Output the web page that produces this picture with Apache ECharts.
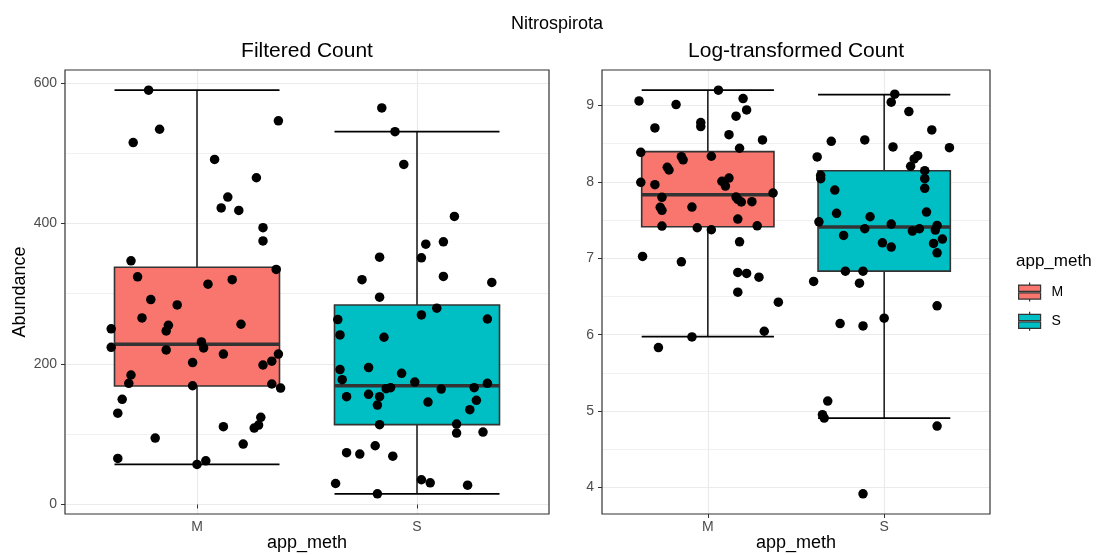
<!DOCTYPE html>
<html><head><meta charset="utf-8">
<script src="https://cdn.jsdelivr.net/npm/echarts@6/dist/echarts.min.js"></script>
<style>html,body{margin:0;padding:0;background:#fff}#c{width:1097px;height:555px}</style>
</head><body><div id="c"></div>
<script>
const categories = ['M', 'S'];
const filteredTicks = [0, 200, 400, 600];
const logTicks = [4, 5, 6, 7, 8, 9];

// jittered points: [horizontal jitter offset (category units), value]
const filteredM = [
  [-0.22,589.6],[-0.17,534],[-0.29,515],[0.37,546],[0.08,491],[0.27,465],[0.14,437.5],[0.11,422],
  [0.19,418.5],[0.30,394],[0.30,375],[-0.30,346.7],[0.36,334.5],[-0.27,324],[0.05,313.5],[0.16,320],
  [-0.21,291.7],[-0.09,284],[-0.25,265.5],[0.20,256.5],[-0.39,250],[-0.13,255],[-0.14,247],[-0.39,223.7],
  [0.02,231.3],[0.03,222.8],[-0.14,220],[0.12,214],[-0.02,202],[0.30,198.5],[0.34,204],[0.37,214],
  [-0.30,184.3],[-0.31,172.4],[-0.02,169],[0.34,171.5],[0.38,165.7],[-0.34,149.6],[-0.36,130],[0.29,124],
  [0.28,113],[0.26,108.8],[0.12,110.7],[-0.19,94.5],[0.21,86],[-0.36,65.6],[0.04,62.2],[0.00,57]
];
const filteredS = [
  [-0.16,564.3],[-0.10,530.6],[-0.06,484],[0.17,410],[0.04,370.5],[0.12,373.8],[-0.17,352],[0.02,351],
  [-0.25,320],[0.12,324.5],[0.34,316],[-0.17,295],[0.09,279.3],[0.02,269.8],[-0.36,263.2],[0.32,264],
  [-0.35,241.3],[-0.15,238],[-0.35,192],[-0.22,194.8],[-0.07,186.7],[-0.34,177.7],[-0.01,174.3],[-0.14,164.8],
  [-0.12,166.3],[0.11,164.3],[0.26,166.3],[0.32,172.4],[-0.32,153.5],[-0.22,156.8],[-0.17,153.5],[-0.18,141.5],
  [0.05,145.8],[0.27,148.2],[0.24,135],[-0.17,113.6],[0.18,114.4],[0.18,101.6],[0.30,103],[-0.19,83.6],
  [-0.32,73.7],[-0.26,71.7],[-0.11,68.8],[-0.37,29.9],[0.02,35.2],[0.06,30.9],[0.23,27.5],[-0.18,15.2]
];
const logM = [
  [0.06,9.201],[-0.39,9.061],[-0.18,9.013],[0.20,9.091],[0.22,8.943],[0.16,8.860],[-0.30,8.707],[-0.04,8.777],
  [-0.04,8.724],[0.12,8.619],[0.31,8.550],[0.18,8.441],[-0.38,8.388],[0.02,8.336],[-0.15,8.33],[-0.14,8.29],
  [-0.23,8.192],[-0.22,8.156],[-0.38,7.995],[-0.30,7.964],[0.08,8.008],[0.12,8.051],[0.10,7.946],[-0.26,7.798],
  [0.16,7.802],[0.17,7.772],[0.19,7.737],[0.25,7.741],[0.37,7.855],[-0.27,7.667],[-0.26,7.628],[-0.09,7.671],
  [0.17,7.514],[-0.26,7.422],[-0.06,7.400],[0.02,7.374],[0.28,7.426],[0.18,7.216],[-0.37,7.025],[-0.15,6.954],
  [0.17,6.815],[0.22,6.802],[0.29,6.753],[0.17,6.557],[0.40,6.426],[0.32,6.045],[-0.09,5.971],[-0.28,5.832]
];
const logS = [
  [0.06,9.149],[0.04,9.044],[0.14,8.921],[0.27,8.681],[-0.30,8.532],[-0.11,8.550],[0.05,8.458],[0.37,8.449],
  [-0.38,8.327],[0.19,8.344],[0.17,8.301],[0.15,8.205],[0.23,8.147],[-0.36,8.087],[-0.36,8.042],[0.23,8.042],
  [-0.28,7.894],[0.23,7.916],[-0.27,7.589],[-0.08,7.544],[0.24,7.605],[-0.37,7.478],[0.04,7.448],[-0.11,7.387],
  [0.16,7.357],[0.20,7.387],[0.30,7.431],[0.29,7.370],[-0.23,7.300],[-0.01,7.203],[0.04,7.147],[0.33,7.252],
  [0.28,7.195],[0.30,7.072],[-0.22,6.832],[-0.12,6.832],[-0.40,6.697],[-0.14,6.675],[0.30,6.378],[-0.25,6.146],
  [-0.12,6.115],[0.00,6.216],[-0.32,5.131],[-0.35,4.953],[-0.34,4.909],[0.30,4.804],[-0.12,3.917]
];

// box statistics: [lower whisker, Q1, median, Q3, upper whisker]
const filteredBoxM = [57, 168.6, 228, 337.7, 589.6];
const filteredBoxS = [15.2, 113.6, 169, 284, 530.6];
const logBoxM = [5.976, 7.413, 7.833, 8.396, 9.201];
const logBoxS = [4.909, 6.832, 7.409, 8.147, 9.144];

const groupColors = ['#F8766D', '#00BFC4'];
const FONT = 'Liberation Sans, Arial, sans-serif';
const BOX_HALF = 0.375;

const GRIDS = [
  {left: 65, top: 70, width: 484, height: 444},
  {left: 602, top: 70, width: 388, height: 444}
];

function yExtent(a, b) {
  const vals = a.concat(b).map(p => p[1]);
  const lo = Math.min.apply(null, vals), hi = Math.max.apply(null, vals);
  const pad = (hi - lo) * 0.05;
  return [lo - pad, hi + pad];
}

function renderBox(params, api) {
  const x = api.value(0);
  const lo = api.value(1), q1 = api.value(2), md = api.value(3), q3 = api.value(4), hi = api.value(5);
  const xl = api.coord([x - BOX_HALF, lo])[0];
  const xr = api.coord([x + BOX_HALF, lo])[0];
  const xc = api.coord([x, lo])[0];
  const yLo = api.coord([x, lo])[1], yQ1 = api.coord([x, q1])[1], yMd = api.coord([x, md])[1];
  const yQ3 = api.coord([x, q3])[1], yHi = api.coord([x, hi])[1];
  const color = api.visual('color');
  return {type: 'group', children: [
    {type: 'line', shape: {x1: xc, y1: yLo, x2: xc, y2: yHi}, style: {stroke: '#222', lineWidth: 1.6}},
    {type: 'line', shape: {x1: xl, y1: yLo, x2: xr, y2: yLo}, style: {stroke: '#000', lineWidth: 1.8}},
    {type: 'line', shape: {x1: xl, y1: yHi, x2: xr, y2: yHi}, style: {stroke: '#000', lineWidth: 1.8}},
    {type: 'rect', shape: {x: xl, y: yQ3, width: xr - xl, height: yQ1 - yQ3}, style: {fill: color, stroke: '#333', lineWidth: 1.6}},
    {type: 'line', shape: {x1: xl, y1: yMd, x2: xr, y2: yMd}, style: {stroke: '#333', lineWidth: 3.6}}
  ]};
}

function xAxisDef(gi) {
  return {
    type: 'value', gridIndex: gi, min: 0.4, max: 2.6, splitNumber: 2,
    name: 'app_meth', nameLocation: 'middle', nameGap: 20, nameMoveOverlap: false,
    nameTextStyle: {fontSize: 18, color: '#000', fontFamily: FONT},
    axisLine: {show: false},
    axisTick: {show: true, length: 4, lineStyle: {color: '#333', width: 1}, customValues: [1, 2]},
    axisLabel: {customValues: [1, 2], formatter: v => categories[Math.round(v) - 1], fontSize: 14,
      color: '#4D4D4D', margin: 6, fontFamily: FONT},
    splitLine: {show: true, lineStyle: {color: '#EBEBEB', width: 1.2}},
    minorTick: {show: false}, minorSplitLine: {show: false}
  };
}

function yAxisDef(gi, ext, ticks, splitNumber, name) {
  const ax = {
    type: 'value', gridIndex: gi, min: ext[0], max: ext[1], splitNumber: splitNumber,
    axisLine: {show: false},
    axisTick: {show: true, length: 4, lineStyle: {color: '#333', width: 1}, customValues: ticks},
    axisLabel: {customValues: ticks, fontSize: 14, color: '#4D4D4D', margin: 8, fontFamily: FONT},
    splitLine: {show: true, lineStyle: {color: '#EBEBEB', width: 1.2}},
    minorTick: {show: false, splitNumber: 2},
    minorSplitLine: {show: true, lineStyle: {color: '#EBEBEB', width: 0.7}}
  };
  if (name) {
    ax.name = name; ax.nameLocation = 'middle'; ax.nameGap = 36; ax.nameRotate = 90;
    ax.nameMoveOverlap = false;
    ax.nameTextStyle = {fontSize: 18, color: '#000', fontFamily: FONT};
  }
  return ax;
}

function panelSeries(gi, boxes, pointSets) {
  const out = [];
  boxes.forEach((b, i) => {
    out.push({
      type: 'custom', name: categories[i], xAxisIndex: gi, yAxisIndex: gi,
      renderItem: renderBox, itemStyle: {color: groupColors[i]},
      data: [[i + 1].concat(b)], encode: {x: 0, y: [1, 2, 3, 4, 5]}, z: 2, silent: true
    });
  });
  pointSets.forEach((pts, i) => {
    out.push({
      type: 'scatter', name: 'points-' + gi + '-' + categories[i], xAxisIndex: gi, yAxisIndex: gi,
      symbolSize: 9.5, itemStyle: {color: '#000', opacity: 1},
      data: pts.map(p => [i + 1 + p[0], p[1]]), z: 3, silent: true
    });
  });
  return out;
}

const LEGEND_ICON = 'path://M11,0L11,2.5M0,2.5L22,2.5L22,8.8L0,8.8ZM0,10.2L22,10.2L22,16.5L0,16.5ZM11,16.5L11,19';

const option = {
  backgroundColor: '#fff',
  animation: false,
  textStyle: {fontFamily: FONT},
  title: [
    {text: 'Nitrospirota', left: 557, top: 15, textAlign: 'center', padding: 0,
      textStyle: {fontSize: 18, fontWeight: 'normal', color: '#000', fontFamily: FONT}},
    {text: 'Filtered Count', left: 307, top: 41, textAlign: 'center', padding: 0,
      textStyle: {fontSize: 21, fontWeight: 'normal', color: '#000', fontFamily: FONT}},
    {text: 'Log-transformed Count', left: 796, top: 41, textAlign: 'center', padding: 0,
      textStyle: {fontSize: 21, fontWeight: 'normal', color: '#000', fontFamily: FONT}},
    {text: 'app_meth', left: 1016, top: 253, padding: 0,
      textStyle: {fontSize: 17, fontWeight: 'normal', color: '#000', fontFamily: FONT}}
  ],
  legend: {
    orient: 'vertical', left: 1018, top: 282, padding: 0, itemWidth: 22, itemHeight: 19, itemGap: 9,
    selectedMode: false,
    itemStyle: {borderColor: '#333', borderWidth: 1.2},
    textStyle: {fontSize: 14, color: '#000', fontFamily: FONT, padding: [0, 0, 0, 6]},
    data: categories.map(c => ({name: c, icon: LEGEND_ICON}))
  },
  grid: GRIDS.map(g => Object.assign({containLabel: false, outerBoundsMode: 'none', show: false}, g)),
  xAxis: [xAxisDef(0), xAxisDef(1)],
  yAxis: [
    yAxisDef(0, yExtent(filteredM, filteredS), filteredTicks, 3, 'Abundance'),
    yAxisDef(1, yExtent(logM, logS), logTicks, 5, null)
  ],
  series: panelSeries(0, [filteredBoxM, filteredBoxS], [filteredM, filteredS])
    .concat(panelSeries(1, [logBoxM, logBoxS], [logM, logS])),
  graphic: GRIDS.map(g => ({
    type: 'rect', silent: true, z: 100,
    shape: {x: g.left, y: g.top, width: g.width, height: g.height},
    style: {fill: null, stroke: '#333', lineWidth: 1.2}
  }))
};

const chart = echarts.init(document.getElementById('c'), null, {renderer: 'canvas'});
chart.setOption(option);
</script>
</body></html>
